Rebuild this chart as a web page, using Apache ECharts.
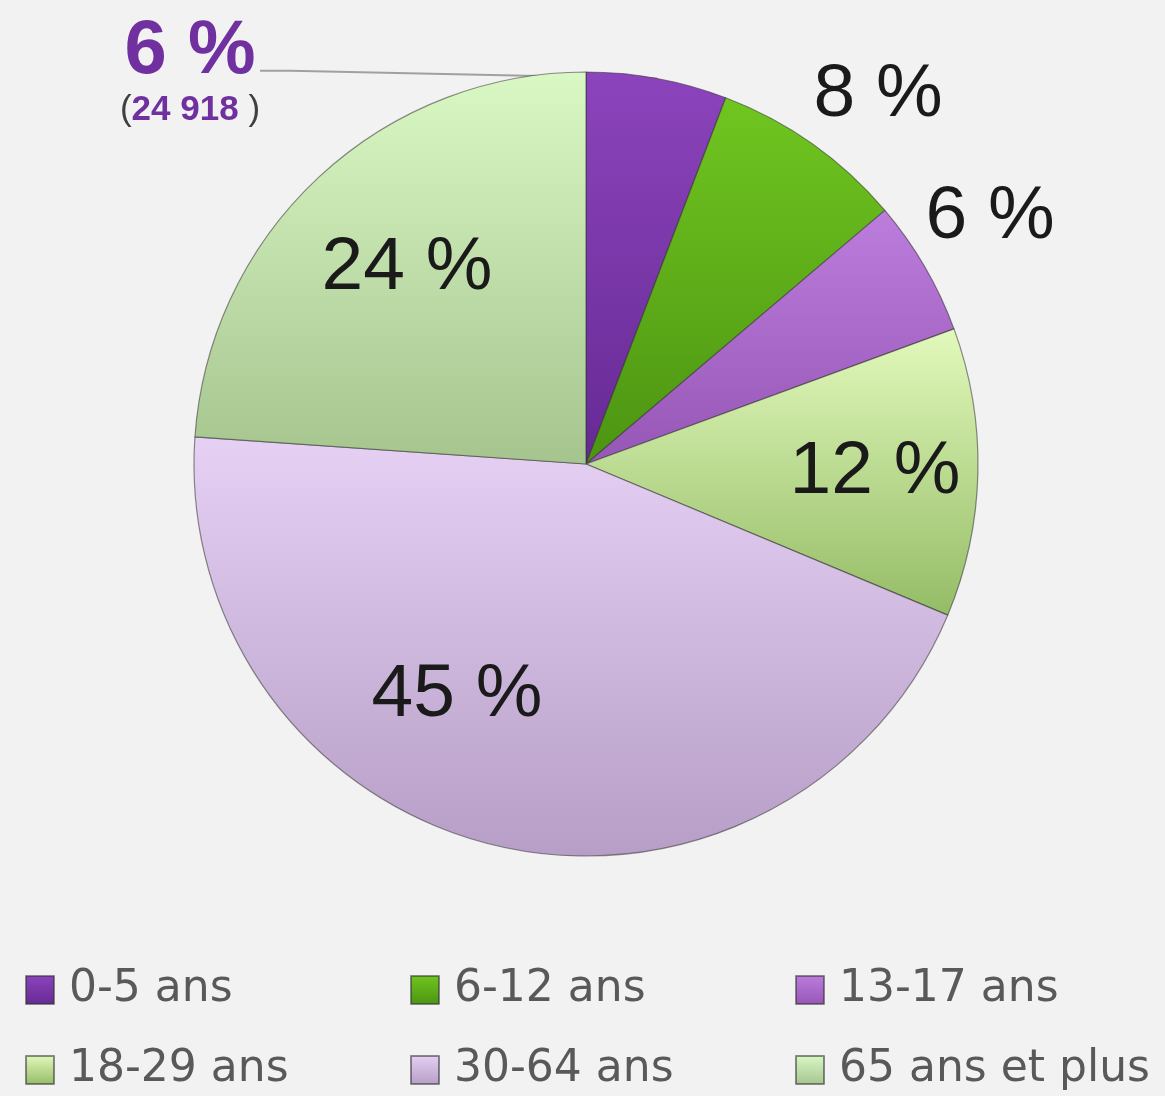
<!DOCTYPE html>
<html>
<head>
<meta charset="utf-8">
<script src="https://cdn.jsdelivr.net/npm/echarts@6/dist/echarts.min.js"></script>
<style>
  html, body { margin: 0; padding: 0; background: #f2f2f2; }
  #main { width: 1165px; height: 1096px; }
</style>
</head>
<body>
<div id="main"></div>
<script>
// données (en %)
var ages = ['0-5 ans', '6-12 ans', '13-17 ans', '18-29 ans', '30-64 ans', '65 ans et plus'];
var parts = [5.8, 8.0, 5.6, 11.9, 44.8, 23.9];
var effectif05 = '24 918';

// dégradés haut -> bas de chaque part
var topColors = ['#8c44bc', '#70c620', '#bc7ddc', '#e2f9bc', '#e6d0f4', '#daf8c4'];
var bottomColors = ['#662a94', '#4c9412', '#9656b6', '#94bc66', '#b69ec6', '#a6c48e'];

// position des étiquettes (centre du texte, px)
var labelSpots = [[190, 74], [878, 95], [990, 217], [875, 472], [457, 695], [407, 268]];

function grad(i) {
    return new echarts.graphic.LinearGradient(0, 0, 0, 1, [
        { offset: 0, color: topColors[i] },
        { offset: 1, color: bottomColors[i] }
    ]);
}

var outside = [true, true, true, false, false, false];

var pieData = ages.map(function (a, i) {
    var item = {
        name: a,
        value: parts[i],
        itemStyle: { color: grad(i) },
        label: { position: outside[i] ? 'outside' : 'inside' },
        labelLine: { show: i === 0 }
    };
    if (i === 0) {
        item.label.formatter = function (p) {
            return '{big|' + Math.round(p.percent) + ' %}\n{p|(}{small|' + effectif05 + ' }{p|)}';
        };
    }
    return item;
});

// une légende par entrée : 3 colonnes x 2 lignes
var legends = ages.map(function (a, i) {
    return {
        left: [25, 410, 795][i % 3],
        top: i < 3 ? 968 : 1048,
        itemWidth: 28,
        itemHeight: 28,
        icon: 'rect',
        padding: 0,
        data: [a],
        textStyle: {
            fontFamily: 'DejaVu Sans',
            fontSize: 44,
            color: '#595959',
            padding: [0, 0, 0, 10]
        }
    };
});

var myChart = echarts.init(document.getElementById('main'));
var option = {
    backgroundColor: '#f2f2f2',
    animation: false,
    legend: legends,
    series: [{
        type: 'pie',
        center: [586, 464],
        radius: 392,
        startAngle: 90,
        clockwise: true,
        avoidLabelOverlap: false,
        itemStyle: {
            borderColor: 'rgba(50,50,50,0.55)',
            borderWidth: 1.2
        },
        label: {
            show: true,
            fontFamily: 'Liberation Sans',
            fontSize: 75,
            color: '#1a1a1a',
            formatter: function (p) {
                return Math.round(p.percent) + ' %';
            },
            rich: {
                big: { fontFamily: 'Liberation Sans', fontSize: 76, fontWeight: 'bold', color: '#7030a0', lineHeight: 72, align: 'center' },
                small: { fontFamily: 'Liberation Sans', fontSize: 35, fontWeight: 'bold', color: '#7030a0', lineHeight: 44 },
                p: { fontFamily: 'Liberation Sans', fontSize: 35, color: '#404040', lineHeight: 44 }
            }
        },
        labelLine: {
            lineStyle: { color: '#a0a0a0', width: 2 }
        },
        labelLayout: function (params) {
            var s = labelSpots[params.dataIndex];
            return { x: s[0], y: s[1], align: 'center', verticalAlign: 'middle' };
        },
        data: pieData
    }]
};
myChart.setOption(option);
</script>
</body>
</html>
